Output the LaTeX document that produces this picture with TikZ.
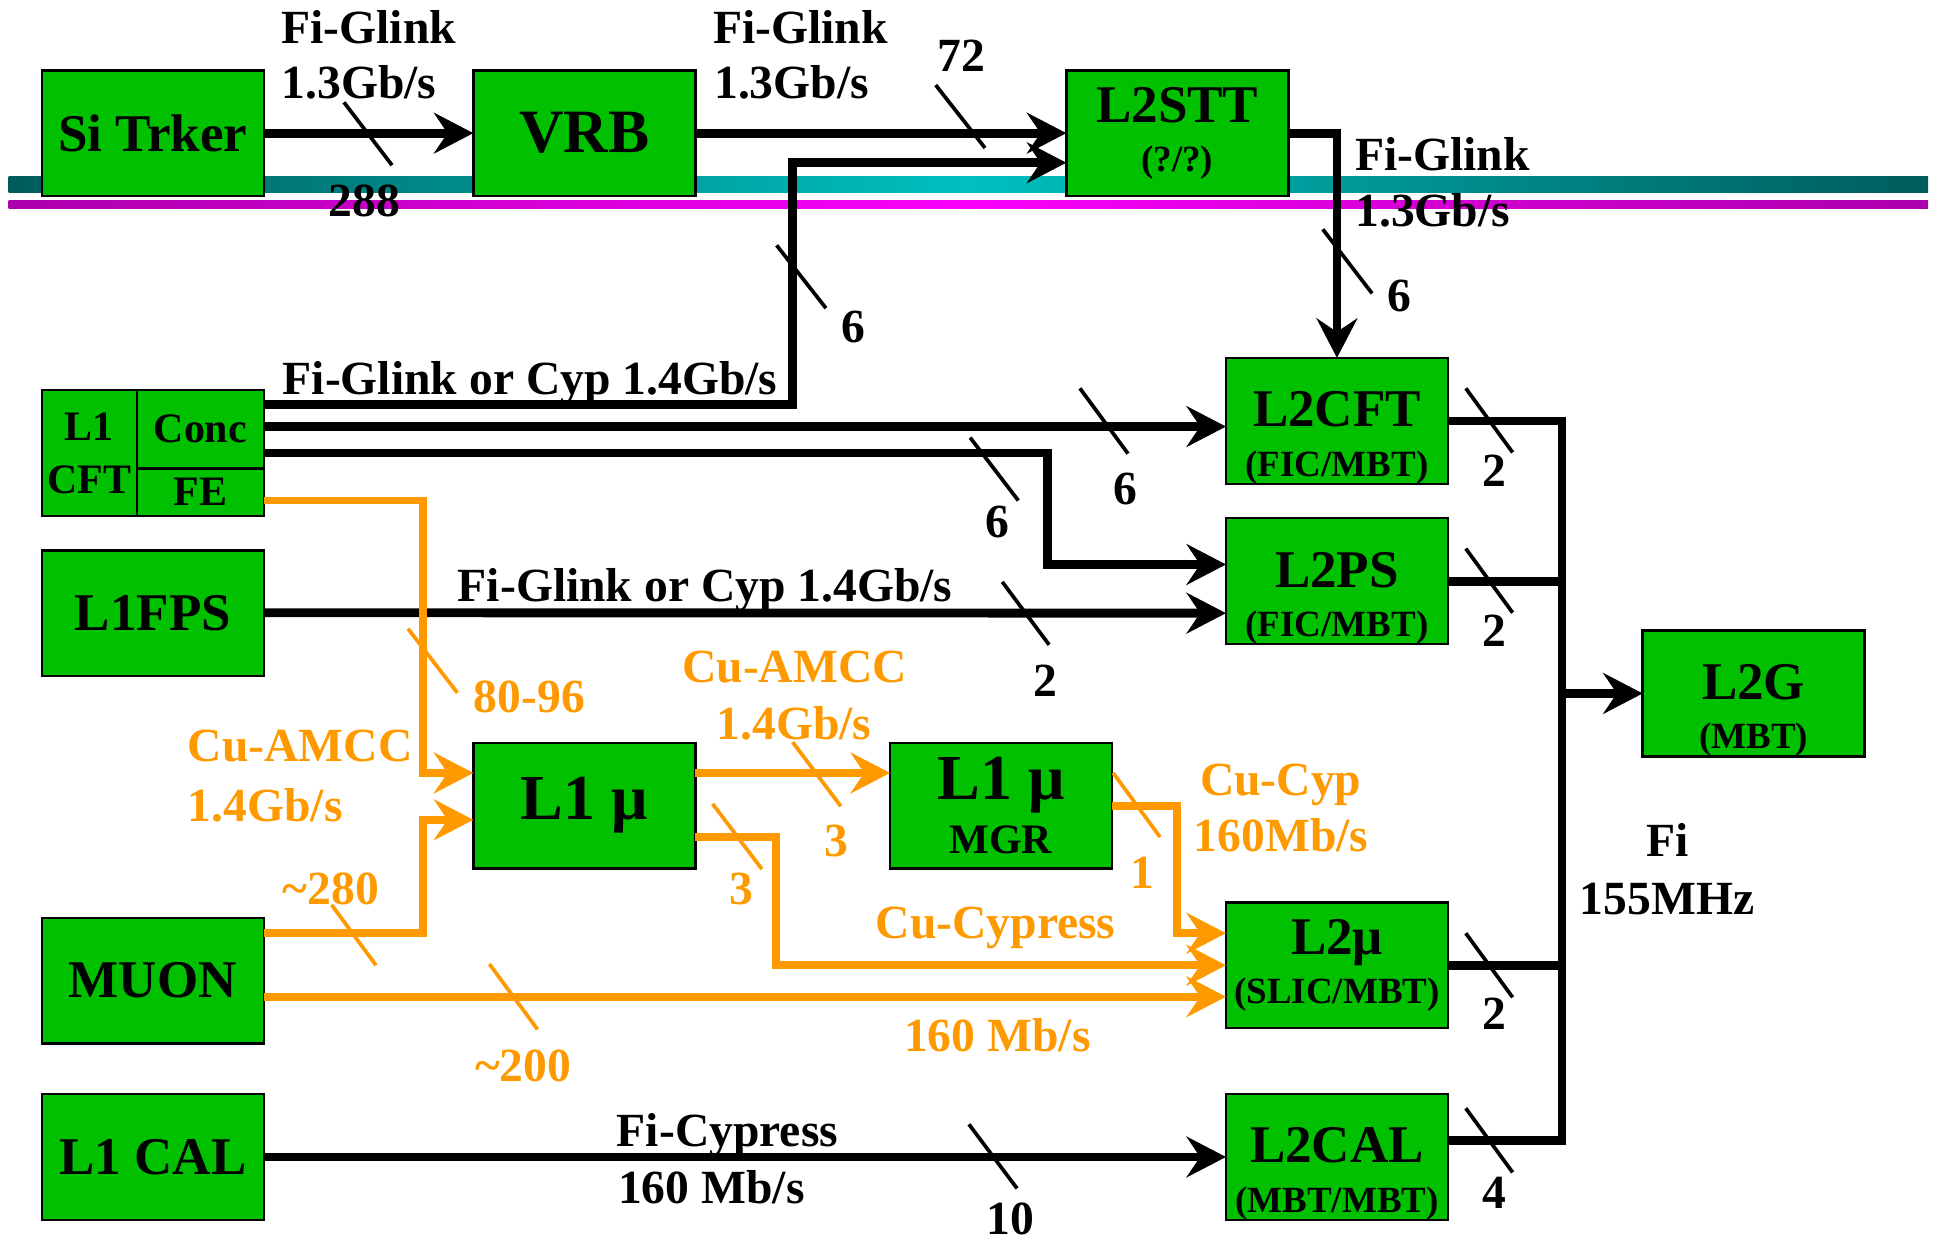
\documentclass[tikz,border=0pt]{standalone}
\usepackage{fontspec}
\setmainfont{Liberation Serif}
\usetikzlibrary{arrows.meta,positioning,calc}

\definecolor{boxgreen}{RGB}{0,192,0}
\definecolor{linkorange}{RGB}{255,153,0}
\definecolor{tealdark}{RGB}{0,92,92}
\definecolor{teallight}{RGB}{0,192,192}
\definecolor{magdark}{RGB}{172,0,172}
\definecolor{maglight}{RGB}{250,0,250}

\newcommand{\boxfont}{\fontsize{21.5pt}{20pt}\selectfont\bfseries}
\newcommand{\subfont}{\fontsize{15pt}{18pt}\selectfont\bfseries}
\newcommand{\linkfont}{\fontsize{19.3pt}{23pt}\selectfont\bfseries}
\newcommand{\lowstrut}{\rule{0pt}{28pt}}

\begin{document}
\begin{tikzpicture}[x=0.5pt, y=-0.5pt,
      box/.style    = {rectangle, draw=black, line width=1pt, fill=boxgreen,
                       minimum width=90pt, minimum height=51pt, inner sep=0pt,
                       outer sep=0pt, align=center, font=\boxfont},
      cell/.style   = {box, font=\fontsize{17pt}{21.5pt}\selectfont\bfseries},
      link/.style   = {line width=3.6pt,
                       -{Stealth[length=16pt, width=16.5pt, inset=5.5pt]}},
      cu/.style     = {link, draw=linkorange, line width=3.2pt},
      bus/.style    = {line width=3.6pt},
      tickmark/.style = {line width=1.5pt},
      cutick/.style = {tickmark, draw=linkorange},
      lbl/.style    = {anchor=base west, inner sep=0pt, font=\linkfont},
      culbl/.style  = {lbl, text=linkorange}
    ]
    \useasboundingbox (0,0) rectangle (1568,1007);

    \shade[left color=tealdark, right color=tealdark, middle color=teallight]
      (7,143.5) rectangle (1564,156.5);
    \shade[left color=magdark, right color=magdark, middle color=maglight]
      (7,163) rectangle (1564,169.5);

    \node[box] (sitrk) at (124,108) {Si Trker};
    \node[box, font=\fontsize{25pt}{30pt}\selectfont\bfseries,
          right=85pt of sitrk] (vrb) {VRB};
    \node[box, right=150.5pt of vrb] (l2stt) {L2STT\\{\subfont (?/?)}};

    \node[cell, minimum width=38.5pt] (cft) at (72.5,367.5) {L1\\CFT};
    \node[cell, minimum width=51.5pt, minimum height=31.75pt,
          anchor=north west] (conc) at (cft.north east) {Conc};
    \node[cell, minimum width=51.5pt, minimum height=19.25pt,
          anchor=north west] (fe) at (conc.south west) {FE};
    \node[box] (fps)  at (124,497.5) {L1FPS};
    \node[box] (muon) at (124,795.5) {MUON};
    \node[box] (cal)  at (124,938.5) {L1 CAL};

    \node[box, font=\fontsize{26pt}{30pt}\selectfont\bfseries]
          (l1mu) at (474,653.5) {L1 μ};
    \node[box, font=\fontsize{26pt}{22pt}\selectfont\bfseries,
          right=79pt of l1mu] (mgr) {L1 μ\\{\fontsize{17pt}{20pt}\selectfont MGR}};

    \node[box] (l2cft) at (1084.5,341.5) {\lowstrut L2CFT\\{\subfont (FIC/MBT)}};
    \node[box, below=13.75pt of l2cft] (l2ps) {\lowstrut L2PS\\{\subfont (FIC/MBT)}};
    \node[box] (l2mu) at (1084.5,783) {L2μ\\{\subfont (SLIC/MBT)}};
    \node[box] (l2cal) at (1084.5,938.5) {\lowstrut L2CAL\\{\subfont (MBT/MBT)}};
    \node[box] (l2g) at (1422.5,562.5) {\lowstrut L2G\\{\subfont (MBT)}};

    \coordinate (bus) at (1267,562.5);
    \coordinate (calout) at ($(l2cal.east)+(0,-13.5)$);

    \draw[link] (sitrk) -- (vrb);
    \draw[link] (vrb) -- (l2stt);
    \draw[link] ($(conc.east)+(0,-20.25)$) -| ($(l2stt.west)+(-222,24)$)
                -- ($(l2stt.west)+(0,24)$);
    \draw[link] ($(conc.east)+(0,-2.25)$) -- ($(l2cft.west)+(0,4.5)$);
    \draw[link] ($(conc.east)+(0,19.25)$) -| ($(l2ps.west)+(-144.5,-13.5)$)
                -- ($(l2ps.west)+(0,-13.5)$);
    \draw[link] ($(fps.east)+(0,-0.5)$) -- ($(l2ps.west)+(0,26)$);
    \draw[link] (l2stt.east) -| (l2cft.north);
    \draw[link] (cal) -- (l2cal);

    \draw[bus] (l2cft.east) -| (bus |- calout) -- (calout);
    \draw[bus] (l2ps.east) -- (l2ps.east -| bus);
    \draw[bus] (l2mu.east) -- (l2mu.east -| bus);
    \draw[link] (bus) -- (l2g);

    \draw[cu] ($(fe.east)+(0,6.75)$) -| ($(l1mu.west)+(-41,-26.5)$)
              -- ($(l1mu.west)+(0,-26.5)$);
    \draw[cu] ($(muon.east)+(0,-39)$) -| ($(l1mu.west)+(-41,11.5)$)
              -- ($(l1mu.west)+(0,11.5)$);
    \draw[cu] ($(muon.east)+(0,13)$) -- ($(l2mu.west)+(0,25.5)$);
    \draw[cu] ($(l1mu.east)+(0,-26.5)$) -- ($(mgr.west)+(0,-26.5)$);
    \draw[cu] ($(l1mu.east)+(0,25.5)$) -| ($(l2mu.west)+(-365,0)$) -- (l2mu.west);
    \draw[cu] (mgr.east) -| ($(l2mu.west)+(-40,-26)$) -- ($(l2mu.west)+(0,-26)$);

    \draw[tickmark] (279,83) -- (318,134);
    \draw[tickmark] (759,69) -- (799,120);
    \draw[tickmark] (630,199) -- (670,250);
    \draw[tickmark] (1073,186) -- (1113,238);
    \draw[tickmark] (876,315) -- (915,368);
    \draw[tickmark] (787,355) -- (826,406);
    \draw[tickmark] (813,472) -- (851,523);
    \draw[tickmark] (1189,315) -- (1227,367);
    \draw[tickmark] (1189,445) -- (1227,497);
    \draw[tickmark] (1189,757) -- (1227,809);
    \draw[tickmark] (1189,899) -- (1227,951);
    \draw[tickmark] (786,912) -- (825,964);
    \draw[cutick] (331,510) -- (371,562);
    \draw[cutick] (643,602) -- (682,654);
    \draw[cutick] (578,652) -- (618,705);
    \draw[cutick] (903,627) -- (941,679);
    \draw[cutick] (269,734) -- (305,783);
    \draw[cutick] (397,782) -- (436,835);

    \node[lbl] (sv-type)  at (228,35)    {Fi-Glink};
    \node[lbl] (sv-rate)  at (228,80)    {1.3Gb/s};
    \node[lbl] (sv-n)     at (266,176)   {288};
    \node[lbl] (vl-type)  at (578,35)    {Fi-Glink};
    \node[lbl] (vl-rate)  at (579,80)    {1.3Gb/s};
    \node[lbl] (vl-n)     at (760,58)    {72};
    \node[lbl] (lc-type)  at (1099,138)  {Fi-Glink};
    \node[lbl] (lc-rate)  at (1099,184)  {1.3Gb/s};
    \node[lbl] (lc-n)     at (1125,253)  {6};
    \node[lbl] (cs-n)     at (682,278)   {6};
    \node[lbl] (cft-type) at (229,320)   {Fi-Glink or Cyp 1.4Gb/s};
    \node[lbl] (cc-n)     at (903,409.5) {6};
    \node[lbl] (cp-n)     at (799,436)   {6};
    \node[lbl] (fps-type) at (371,488)   {Fi-Glink or Cyp 1.4Gb/s};
    \node[lbl] (fps-n)    at (838,565)   {2};
    \node[lbl] (out-cft)  at (1202,395)  {2};
    \node[lbl] (out-ps)   at (1202,524.5) {2};
    \node[lbl] (out-mu)   at (1202,835)  {2};
    \node[lbl] (out-cal)  at (1202,980)  {4};
    \node[lbl] (bus-type) at (1335,695)  {Fi};
    \node[lbl] (bus-rate) at (1281,742)  {155MHz};
    \node[lbl] (cal-type) at (500,930)   {Fi-Cypress};
    \node[lbl] (cal-rate) at (501,976)   {160 Mb/s};
    \node[lbl] (cal-n)    at (800,1001)  {10};

    \node[culbl] (fe-n)     at (384,578) {80-96};
    \node[culbl] (mu-type)  at (152,618) {Cu-AMCC};
    \node[culbl] (mu-rate)  at (152,666) {1.4Gb/s};
    \node[culbl] (mu-n)     at (229,734) {\textasciitilde280};
    \node[culbl] (ml-n)     at (385,877) {\textasciitilde200};
    \node[culbl] (mg-type)  at (553,554) {Cu-AMCC};
    \node[culbl] (mg-rate)  at (581,600) {1.4Gb/s};
    \node[culbl] (mg-n)     at (668,695) {3};
    \node[culbl] (l2-n)     at (591,734) {3};
    \node[culbl] (l2-type)  at (710,761) {Cu-Cypress};
    \node[culbl] (ml-rate)  at (733,853) {160 Mb/s};
    \node[culbl] (mgo-type) at (973,645) {Cu-Cyp};
    \node[culbl] (mgo-rate) at (968,691) {160Mb/s};
    \node[culbl] (mgo-n)    at (917,721) {1};
  \end{tikzpicture}
\end{document}
